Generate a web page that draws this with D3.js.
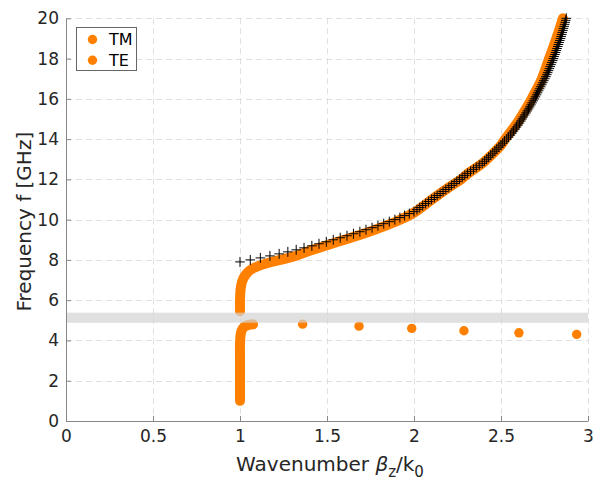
<!DOCTYPE html>
<html><head><meta charset="utf-8">
<script src="https://cdn.jsdelivr.net/npm/d3@7"></script>
<style>
html,body{margin:0;padding:0;background:#fff;}
svg{display:block;font-family:"DejaVu Sans",sans-serif;}
</style></head>
<body>
<svg id="chart" width="600" height="483"></svg>
<script>
// ---- data ----
const xTicks = [0, 0.5, 1, 1.5, 2, 2.5, 3];
const xTickLabels = ["0", "0.5", "1", "1.5", "2", "2.5", "3"];
const yTicks = [0, 2, 4, 6, 8, 10, 12, 14, 16, 18, 20];
const yTickLabels = ["0", "2", "4", "6", "8", "10", "12", "14", "16", "18", "20"];
const legendLabels = ["TM", "TE"];

// TM branch (dense orange dots, upper branch)
const tmBeta = [1.0, 1.0, 1.002, 1.006, 1.013, 1.025, 1.04, 1.06, 1.085, 1.12, 1.16, 1.22, 1.3, 1.4, 1.5, 1.6, 1.7, 1.8, 1.9, 2.0,
  2.1, 2.2, 2.27, 2.3, 2.4, 2.45, 2.5, 2.523, 2.55, 2.6, 2.65, 2.676, 2.7, 2.73, 2.75, 2.772, 2.8, 2.83, 2.856];
const tmFreq = [5.45, 6.0, 6.4, 6.7, 6.95, 7.17, 7.35, 7.5, 7.62, 7.74, 7.85, 7.98, 8.15, 8.45, 8.73, 9.0, 9.27, 9.58, 9.92, 10.35,
  10.98, 11.6, 12.0, 12.22, 12.85, 13.25, 13.7, 14.0, 14.3, 14.9, 15.6, 16.0, 16.4, 16.9, 17.35, 17.9, 18.55, 19.3, 20.0];

// TE branch, dense part near the light line
const teBetaDense = [1.0, 1.0, 1.0, 1.0, 1.002, 1.006, 1.013, 1.025, 1.045, 1.075];
const teFreqDense = [1.0, 2.0, 3.0, 3.8, 4.15, 4.4, 4.56, 4.68, 4.76, 4.8];
// TE branch, sparse points
const teBetaSparse = [1.36, 1.684, 1.987, 2.287, 2.603, 2.935];
const teFreqSparse = [4.81, 4.71, 4.6, 4.48, 4.38, 4.3];

// reference solution (black plus markers)
const refFreq = [7.9, 8.0, 8.1, 8.2, 8.3, 8.4, 8.5, 8.6, 8.7, 8.8, 8.9, 9.0, 9.1, 9.2, 9.3, 9.4, 9.5, 9.6, 9.7, 9.8, 9.9,
  10.0, 10.1, 10.2, 10.3, 10.4, 10.5, 10.6, 10.7, 10.8, 10.9, 11.0, 11.1, 11.2, 11.3, 11.4, 11.5, 11.6, 11.7, 11.8, 11.9,
  12.0, 12.1, 12.2, 12.3, 12.4, 12.5, 12.6, 12.7, 12.8, 12.9, 13.0, 13.1, 13.2, 13.3, 13.4, 13.5, 13.6, 13.7, 13.8, 13.9,
  14.0, 14.1, 14.2, 14.3, 14.4, 14.5, 14.6, 14.7, 14.8, 14.9, 15.0, 15.1, 15.2, 15.3, 15.4, 15.5, 15.6, 15.7, 15.8, 15.9,
  16.0, 16.1, 16.2, 16.3, 16.4, 16.5, 16.6, 16.7, 16.8, 16.9, 17.0, 17.1, 17.2, 17.3, 17.4, 17.5, 17.6, 17.7, 17.8, 17.9,
  18.0, 18.1, 18.2, 18.3, 18.4, 18.5, 18.6, 18.7, 18.8, 18.9, 19.0, 19.1, 19.2, 19.3, 19.4, 19.5, 19.6, 19.7, 19.8, 19.9, 20.0];
const refBeta = [1.000, 1.059, 1.117, 1.172, 1.225, 1.275, 1.323, 1.368, 1.413, 1.454, 1.496, 1.536, 1.576, 1.615, 1.652, 1.689, 1.724, 1.759, 1.793, 1.826, 1.858,
  1.890, 1.919, 1.946, 1.973, 2.000, 2.017, 2.033, 2.050, 2.067, 2.083, 2.100, 2.117, 2.133, 2.150, 2.167, 2.183, 2.200, 2.215, 2.231, 2.246,
  2.262, 2.277, 2.292, 2.308, 2.325, 2.342, 2.358, 2.375, 2.392, 2.406, 2.418, 2.429, 2.441, 2.453, 2.465, 2.476, 2.488, 2.500, 2.510, 2.520,
  2.533, 2.543, 2.554, 2.563, 2.572, 2.581, 2.589, 2.598, 2.606, 2.614, 2.621, 2.628, 2.636, 2.644, 2.651, 2.658, 2.665, 2.672, 2.678, 2.685,
  2.691, 2.698, 2.704, 2.710, 2.716, 2.722, 2.728, 2.734, 2.740, 2.746, 2.752, 2.758, 2.763, 2.768, 2.773, 2.778, 2.783, 2.787, 2.792, 2.797,
  2.801, 2.805, 2.810, 2.814, 2.818, 2.822, 2.826, 2.830, 2.834, 2.838, 2.842, 2.846, 2.849, 2.852, 2.856, 2.859, 2.863, 2.866, 2.869, 2.872, 2.875];

// light line band (frequency range)
const bandFreq = [4.88, 5.38];

// ---- drawing ----
const plot = {left: 66, right: 588, top: 18.3, bottom: 421};
const orange = "#ff8000";
const svg = d3.select("#chart");
const x = d3.scaleLinear().domain([0, 3]).range([plot.left, plot.right]);
const y = d3.scaleLinear().domain([0, 20]).range([plot.bottom, plot.top]);

// grid
const grid = svg.append("g").attr("stroke", "#e0e0e0").attr("stroke-width", 1).attr("stroke-dasharray", "6,4");
grid.selectAll("line.gx").data(xTicks.slice(1)).join("line")
  .attr("x1", d => Math.round(x(d)) + 0.5).attr("x2", d => Math.round(x(d)) + 0.5)
  .attr("y1", plot.top).attr("y2", plot.bottom);
grid.selectAll("line.gy").data(yTicks.slice(1)).join("line")
  .attr("y1", d => Math.round(y(d)) + 0.5).attr("y2", d => Math.round(y(d)) + 0.5)
  .attr("x1", plot.left).attr("x2", plot.right);

const line = d3.line().x(d => x(d[0])).y(d => y(d[1])).curve(d3.curveCatmullRom.alpha(0.5));
const tmPts = tmBeta.map((b, i) => [b, tmFreq[i]]);
const tePts = teBetaDense.map((b, i) => [b, teFreqDense[i]]);

svg.append("path").datum(tePts).attr("d", line)
  .attr("fill", "none").attr("stroke", orange).attr("stroke-width", 10)
  .attr("stroke-linecap", "round").attr("stroke-linejoin", "round");
svg.append("path").datum(tmPts).attr("d", line)
  .attr("fill", "none").attr("stroke", orange).attr("stroke-width", 10)
  .attr("stroke-linecap", "round").attr("stroke-linejoin", "round");

svg.append("g").selectAll("circle").data(teBetaSparse.map((b, i) => [b, teFreqSparse[i]])).join("circle")
  .attr("cx", d => x(d[0])).attr("cy", d => y(d[1])).attr("r", 4.7).attr("fill", orange);

// plus markers
svg.append("g").selectAll("path").data(refBeta.map((b, i) => [b, refFreq[i]])).join("path")
  .attr("transform", d => `translate(${x(d[0])},${y(d[1])})`)
  .attr("d", "M-4.8,0H4.8M0,-5V5")
  .attr("stroke", "#000").attr("stroke-width", 1).attr("fill", "none");

// light-line band on top
svg.append("rect")
  .attr("x", x(0)).attr("width", x(3) - x(0))
  .attr("y", y(bandFreq[1])).attr("height", y(bandFreq[0]) - y(bandFreq[1]))
  .attr("fill", "#d3d3d3").attr("opacity", 0.7);

// axes
const xAxis = d3.axisBottom(x).tickValues(xTicks).tickFormat((d, i) => xTickLabels[i])
  .tickSizeInner(-5).tickSizeOuter(0).tickPadding(9);
const yAxis = d3.axisLeft(y).tickValues(yTicks).tickFormat((d, i) => yTickLabels[i])
  .tickSizeInner(-5).tickSizeOuter(0).tickPadding(7);
const gx = svg.append("g").attr("transform", `translate(0,${plot.bottom})`).call(xAxis);
const gy = svg.append("g").attr("transform", `translate(${plot.left},0)`).call(yAxis);
[gx, gy].forEach(g => {
  g.selectAll("path.domain").attr("stroke", "#888").attr("stroke-width", 1);
  g.selectAll(".tick line").attr("stroke", "#888");
  g.selectAll("text").attr("fill", "#262626").style("font-size", "17px").style("font-family", "DejaVu Sans");
});

// axis labels
svg.append("text").attr("x", (plot.left + plot.right) / 2 + 3).attr("y", 471)
  .attr("text-anchor", "middle").attr("fill", "#262626").style("font-size", "20px")
  .call(t => {
    t.append("tspan").text("Wavenumber ");
    t.append("tspan").text("β").style("font-style", "italic");
    t.append("tspan").text("z").attr("dy", 6).style("font-size", "15px");
    t.append("tspan").text("/k").attr("dy", -6);
    t.append("tspan").text("0").attr("dy", 6).style("font-size", "15px");
  });
svg.append("text").attr("transform", `translate(31,${(plot.top + plot.bottom) / 2 + 2}) rotate(-90)`)
  .attr("text-anchor", "middle").attr("fill", "#262626").style("font-size", "20px")
  .text("Frequency f [GHz]");

// legend
const lg = svg.append("g");
lg.append("rect").attr("x", 76.5).attr("y", 27.5).attr("width", 60).attr("height", 43)
  .attr("fill", "#fff").attr("stroke", "#666").attr("stroke-width", 1);
legendLabels.forEach((lab, i) => {
  const cy = 39.5 + i * 20.7;
  lg.append("circle").attr("cx", 92.5).attr("cy", cy).attr("r", 4.7).attr("fill", orange);
  lg.append("text").attr("x", 109).attr("y", cy + 5.5).attr("fill", "#000").style("font-size", "16px").text(lab);
});
</script>
</body></html>
